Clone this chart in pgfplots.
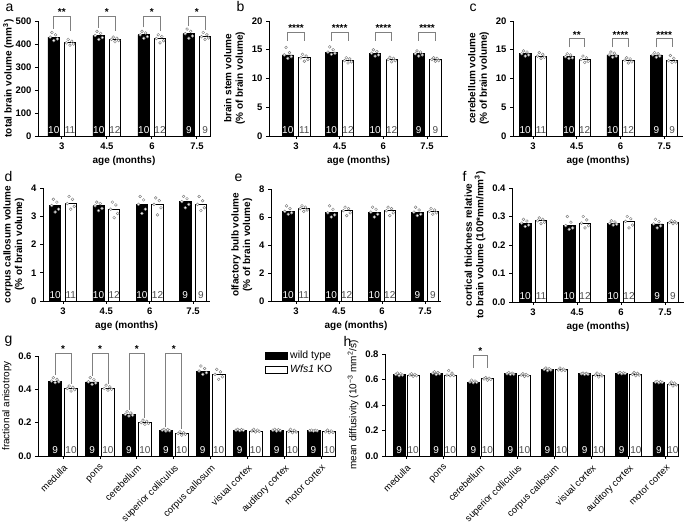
\documentclass[border=0pt]{standalone}
\usepackage{pgfplots}
\pgfplotsset{compat=1.18}
\usepackage{fontspec}
\setmainfont{Liberation Sans}

\pgfplotsset{
  base/.style={
    scale only axis,
    axis x line*=bottom, axis y line*=left,
    axis line style={-, line width=0.9pt},
    tick align=outside, major tick length=3pt,
    every tick/.style={black, line width=0.9pt},
    ymin=0, enlargelimits=false, clip=false,
    /pgf/number format/assume math mode=true,
    tick label style={font=\bfseries\fontsize{9.5}{11}\selectfont},
    label style={font=\bfseries\fontsize{10}{11.5}\selectfont},
    ylabel style={align=center},
  },
  age/.style={base, xtick={0,1,2,3}, xticklabels={3,4.5,6,7.5}, xlabel={age (months)}},
  reg/.style={base, xtick={0,...,7},
    xticklabels={medulla,pons,cerebellum,superior colliculus,corpus callosum,visual cortex,auditory cortex,motor cortex},
    xticklabel style={rotate=45, anchor=north east, font=\fontsize{9.5}{11}\selectfont},
    ylabel style={font=\fontsize{10}{11.5}\selectfont},
    yticklabel style={/pgf/number format/.cd, fixed, fixed zerofill, precision=1}},
  wt/.style 2 args={ybar, bar width=#1, bar shift=-#2, fill=black, draw=black, line width=0.6pt},
  ko/.style 2 args={ybar, bar width=#1, bar shift=#2, fill=white, draw=black, line width=0.9pt},
  dots/.style={only marks, mark=*, mark size=1.4pt, forget plot,
    mark options={draw=gray, fill=white, line width=0.45pt}},
  nl/.style={draw=none, mark=none, forget plot, nodes near coords, point meta=explicit symbolic,
    every node near coord/.style={anchor=south, inner sep=1pt, yshift=1pt, font=\fontsize{10}{11}\selectfont, text=#1}},
  br/.style={gray, line width=0.8pt, forget plot},
}
\tikzset{st/.style={anchor=south, inner sep=0.5pt, font=\bfseries\fontsize{10}{11}\selectfont}}

\begin{document}
\begin{tikzpicture}
\useasboundingbox (0pt,0pt) rectangle (685pt,525pt);

% panel letters
\node[anchor=base west, font=\fontsize{14}{16}\selectfont] at (2pt,513pt) {a};
\node[anchor=base west, font=\fontsize{14}{16}\selectfont] at (233pt,513pt) {b};
\node[anchor=base west, font=\fontsize{14}{16}\selectfont] at (466pt,513pt) {c};
\node[anchor=base west, font=\fontsize{14}{16}\selectfont] at (1pt,343pt) {d};
\node[anchor=base west, font=\fontsize{14}{16}\selectfont] at (231pt,343pt) {e};
\node[anchor=base west, font=\fontsize{14}{16}\selectfont] at (459pt,343pt) {f};
\node[anchor=base west, font=\fontsize{14}{16}\selectfont] at (1pt,181pt) {g};
\node[anchor=base west, font=\fontsize{14}{16}\selectfont] at (340pt,178pt) {h};

% a
\begin{axis}[age, at={(38pt,389pt)}, anchor=south west, width=172pt, height=115pt,
  xmin=-0.53, xmax=3.29, ymax=500, ytick={0,100,...,500}, ylabel shift=-5pt,
  ylabel={total brain volume (mm\textsuperscript{3})}]
\addplot[wt={0.26}{0.18}] coordinates {(0,430) (1,437) (2,440) (3,445)};
\addplot[ko={0.26}{0.18}] coordinates {(0,405) (1,420) (2,424) (3,432)};
\addplot[dots] coordinates {
 (-0.26,430)(-0.22,450)(-0.18,415)(-0.14,440)(-0.10,422)
 (0.10,405)(0.14,420)(0.18,395)(0.22,412)(0.26,400)
 (0.74,437)(0.78,455)(0.82,420)(0.86,446)(0.90,428)
 (1.10,420)(1.14,430)(1.18,410)(1.22,425)(1.26,415)
 (1.74,440)(1.78,455)(1.82,425)(1.86,448)(1.90,432)
 (2.10,424)(2.14,440)(2.18,405)(2.22,432)(2.26,414)
 (2.74,445)(2.78,465)(2.82,425)(2.86,455)(2.90,435)
 (3.10,432)(3.14,450)(3.18,420)(3.22,440)(3.26,426)};
\addplot[nl=white] coordinates {(-0.18,0)[10] (0.82,0)[10] (1.82,0)[10] (2.82,0)[9]};
\addplot[nl=black!70] coordinates {(0.18,0)[11] (1.18,0)[12] (2.18,0)[12] (3.18,0)[9]};
\addplot[br] coordinates {(-0.18,465) (-0.18,522) (0.18,522) (0.18,455)};
\addplot[br] coordinates {(0.82,470) (0.82,522) (1.18,522) (1.18,455)};
\addplot[br] coordinates {(1.82,472) (1.82,522) (2.18,522) (2.18,458)};
\addplot[br] coordinates {(2.82,480) (2.82,522) (3.18,522) (3.18,462)};
\node[st] at (axis cs:0,522) {**};
\node[st] at (axis cs:1,522) {*};
\node[st] at (axis cs:2,522) {*};
\node[st] at (axis cs:3,522) {*};
\end{axis}

% b
\begin{axis}[age, at={(269pt,389pt)}, anchor=south west, width=179pt, height=115pt,
  xmin=-0.62, xmax=3.48, ymax=20, ytick={0,5,...,20},
  ylabel={brain stem volume\\(\% of brain volume)}]
\addplot[wt={0.26}{0.19}] coordinates {(0,14.1) (1,14.6) (2,14.4) (3,14.3)};
\addplot[ko={0.26}{0.19}] coordinates {(0,13.6) (1,13.1) (2,13.3) (3,13.3)};
\addplot[dots] coordinates {
 (-0.27,14.1)(-0.23,15.4)(-0.19,13.5)(-0.15,14.5)(-0.11,13.8)
 (0.11,13.6)(0.15,14.2)(0.19,13.0)(0.23,13.9)(0.27,13.3)
 (0.73,14.6)(0.77,15.5)(0.81,14.2)(0.85,15.0)(0.89,14.4)
 (1.11,13.1)(1.15,13.6)(1.19,12.7)(1.23,13.4)(1.27,12.9)
 (1.73,14.4)(1.77,15.0)(1.81,13.9)(1.85,14.7)(1.89,14.1)
 (2.11,13.3)(2.15,13.7)(2.19,12.9)(2.23,13.5)(2.27,13.1)
 (2.73,14.3)(2.77,14.8)(2.81,13.9)(2.85,14.6)(2.89,14.1)
 (3.11,13.3)(3.15,13.6)(3.19,13.0)(3.23,13.5)(3.27,13.1)};
\addplot[nl=white] coordinates {(-0.19,0)[10] (0.81,0)[10] (1.81,0)[10] (2.81,0)[9]};
\addplot[nl=black!70] coordinates {(0.19,0)[11] (1.19,0)[12] (2.19,0)[12] (3.19,0)[9]};
\addplot[br] coordinates {(-0.19,16.6) (-0.19,18) (0.19,18) (0.19,16.6)};
\addplot[br] coordinates {(0.81,16.6) (0.81,18) (1.19,18) (1.19,16.6)};
\addplot[br] coordinates {(1.81,16.6) (1.81,18) (2.19,18) (2.19,16.6)};
\addplot[br] coordinates {(2.81,16.6) (2.81,18) (3.19,18) (3.19,16.6)};
\node[st] at (axis cs:0,18) {****};
\node[st] at (axis cs:1,18) {****};
\node[st] at (axis cs:2,18) {****};
\node[st] at (axis cs:3,18) {****};
\end{axis}

% c
\begin{axis}[age, at={(513pt,389pt)}, anchor=south west, width=170pt, height=115pt,
  xmin=-0.46, xmax=3.43, ymax=20, ytick={0,5,...,20},
  ylabel={cerebellum volume\\(\% of brain volume)}]
\addplot[wt={0.26}{0.18}] coordinates {(0,14.3) (1,13.8) (2,14.1) (3,14.1)};
\addplot[ko={0.26}{0.18}] coordinates {(0,13.9) (1,13.3) (2,13.2) (3,13.1)};
\addplot[dots] coordinates {
 (-0.26,14.3)(-0.22,14.8)(-0.18,13.9)(-0.14,14.6)(-0.10,14.1)
 (0.10,13.9)(0.14,14.5)(0.18,13.5)(0.22,14.2)(0.26,13.7)
 (0.74,13.8)(0.78,14.3)(0.82,13.5)(0.86,14.1)(0.90,13.6)
 (1.10,13.3)(1.14,13.9)(1.18,12.8)(1.22,13.6)(1.26,13.0)
 (1.74,14.1)(1.78,14.6)(1.82,13.7)(1.86,14.4)(1.90,13.9)
 (2.10,13.2)(2.14,13.6)(2.18,12.7)(2.22,13.4)(2.26,12.9)
 (2.74,14.1)(2.78,14.5)(2.82,13.7)(2.86,14.3)(2.90,13.9)
 (3.10,13.1)(3.14,14.0)(3.18,12.8)(3.22,13.5)(3.26,12.9)};
\addplot[nl=white] coordinates {(-0.18,0)[10] (0.82,0)[10] (1.82,0)[10] (2.82,0)[9]};
\addplot[nl=black!70] coordinates {(0.18,0)[11] (1.18,0)[12] (2.18,0)[12] (3.18,0)[9]};
\addplot[br] coordinates {(0.82,15.4) (0.82,16.9) (1.18,16.9) (1.18,15.4)};
\addplot[br] coordinates {(1.82,15.4) (1.82,16.9) (2.18,16.9) (2.18,15.4)};
\addplot[br] coordinates {(2.82,15.4) (2.82,16.9) (3.18,16.9) (3.18,15.4)};
\node[st] at (axis cs:1,16.9) {**};
\node[st] at (axis cs:2,16.9) {****};
\node[st] at (axis cs:3,16.9) {****};
\end{axis}

% d
\begin{axis}[age, at={(43pt,224pt)}, anchor=south west, width=167pt, height=113pt,
  xmin=-0.46, xmax=3.39, ymax=4, ytick={0,1,...,4},
  ylabel={corpus callosum volume\\(\% of brain volume)}]
\addplot[wt={0.26}{0.18}] coordinates {(0,3.38) (1,3.37) (2,3.42) (3,3.52)};
\addplot[ko={0.26}{0.18}] coordinates {(0,3.45) (1,3.25) (2,3.42) (3,3.42)};
\addplot[dots] coordinates {
 (-0.26,3.38)(-0.22,3.6)(-0.18,3.15)(-0.14,3.5)(-0.10,3.25)
 (0.10,3.45)(0.14,3.7)(0.18,3.25)(0.22,3.6)(0.26,3.35)
 (0.74,3.37)(0.78,3.5)(0.82,3.2)(0.86,3.45)(0.90,3.28)
 (1.10,3.25)(1.14,3.5)(1.18,2.95)(1.22,3.4)(1.26,3.1)
 (1.74,3.42)(1.78,3.7)(1.82,3.1)(1.86,3.58)(1.90,3.25)
 (2.10,3.42)(2.14,3.65)(2.18,3.05)(2.22,3.55)(2.26,3.3)
 (2.74,3.52)(2.78,3.7)(2.82,3.3)(2.86,3.62)(2.90,3.42)
 (3.10,3.42)(3.14,3.7)(3.18,3.2)(3.22,3.55)(3.26,3.3)};
\addplot[nl=white] coordinates {(-0.18,0)[10] (0.82,0)[10] (1.82,0)[10] (2.82,0)[9]};
\addplot[nl=black!70] coordinates {(0.18,0)[11] (1.18,0)[12] (2.18,0)[12] (3.18,0)[9]};
\end{axis}

% e
\begin{axis}[age, at={(271pt,224pt)}, anchor=south west, width=170pt, height=112pt,
  xmin=-0.58, xmax=3.37, ymax=8, ytick={0,2,...,8},
  ylabel={olfactory bulb volume\\(\% of brain volume)}]
\addplot[wt={0.26}{0.18}] coordinates {(0,6.4) (1,6.3) (2,6.35) (3,6.35)};
\addplot[ko={0.26}{0.18}] coordinates {(0,6.6) (1,6.45) (2,6.45) (3,6.4)};
\addplot[dots] coordinates {
 (-0.26,6.4)(-0.22,6.8)(-0.18,6.2)(-0.14,6.6)(-0.10,6.3)
 (0.10,6.6)(0.14,6.8)(0.18,6.4)(0.22,6.7)(0.26,6.5)
 (0.74,6.3)(0.78,6.8)(0.82,6.0)(0.86,6.55)(0.90,6.15)
 (1.10,6.45)(1.14,6.7)(1.18,6.1)(1.22,6.6)(1.26,6.3)
 (1.74,6.35)(1.78,6.7)(1.82,6.0)(1.86,6.55)(1.90,6.2)
 (2.10,6.45)(2.14,6.7)(2.18,6.1)(2.22,6.6)(2.26,6.3)
 (2.74,6.35)(2.78,6.7)(2.82,6.1)(2.86,6.5)(2.90,6.2)
 (3.10,6.4)(3.14,6.6)(3.18,6.2)(3.22,6.5)(3.26,6.3)};
\addplot[nl=white] coordinates {(-0.18,0)[10] (0.82,0)[10] (1.82,0)[10] (2.82,0)[9]};
\addplot[nl=black!70] coordinates {(0.18,0)[11] (1.18,0)[12] (2.18,0)[12] (3.18,0)[9]};
\end{axis}

% f
\begin{axis}[age, at={(512pt,223pt)}, anchor=south west, width=172pt, height=114pt,
  xmin=-0.48, xmax=3.43, ymax=0.4, ytick={0,0.1,...,0.4},
  yticklabel style={/pgf/number format/.cd, fixed, fixed zerofill, precision=1},
  ylabel={cortical thickness relative\\to brain volume (100*mm/mm\textsuperscript{3})}]
\addplot[wt={0.26}{0.18}] coordinates {(0,0.277) (1,0.268) (2,0.276) (3,0.274)};
\addplot[ko={0.26}{0.18}] coordinates {(0,0.285) (1,0.277) (2,0.283) (3,0.279)};
\addplot[dots] coordinates {
 (-0.26,0.277)(-0.22,0.29)(-0.18,0.265)(-0.14,0.284)(-0.10,0.27)
 (0.10,0.285)(0.14,0.295)(0.18,0.275)(0.22,0.29)(0.26,0.28)
 (0.74,0.268)(0.78,0.30)(0.82,0.255)(0.86,0.28)(0.90,0.26)
 (1.10,0.277)(1.14,0.30)(1.18,0.26)(1.22,0.288)(1.26,0.268)
 (1.74,0.276)(1.78,0.285)(1.82,0.27)(1.86,0.281)(1.90,0.273)
 (2.10,0.283)(2.14,0.30)(2.18,0.26)(2.22,0.292)(2.26,0.27)
 (2.74,0.274)(2.78,0.29)(2.82,0.26)(2.86,0.282)(2.90,0.267)
 (3.10,0.279)(3.14,0.285)(3.18,0.275)(3.22,0.282)(3.26,0.277)};
\addplot[nl=white] coordinates {(-0.18,0)[10] (0.82,0)[10] (1.82,0)[10] (2.82,0)[9]};
\addplot[nl=black!70] coordinates {(0.18,0)[11] (1.18,0)[12] (2.18,0)[12] (3.18,0)[9]};
\end{axis}

% g
\begin{axis}[reg, at={(38pt,69pt)}, anchor=south west, width=293pt, height=100pt,
  xmin=-0.68, xmax=7.26, ymax=0.6, ytick={0,0.2,...,0.6},
  ylabel={fractional anisotropy},
  legend style={at={(rel axis cs:0.775,1.07)}, anchor=north west, draw=none, fill=none,
    font=\fontsize{10.5}{12}\selectfont, inner sep=0pt, row sep=1pt},
  legend cell align=left,
  legend image code/.code={\draw[#1] (0pt,-3.5pt) rectangle (22pt,3.5pt);}]
\addplot[wt={0.35}{0.215}] coordinates {(0,0.45) (1,0.445) (2,0.25) (3,0.155) (4,0.51) (5,0.155) (6,0.155) (7,0.152)};
\addplot[ko={0.35}{0.215}] coordinates {(0,0.405) (1,0.405) (2,0.20) (3,0.135) (4,0.49) (5,0.15) (6,0.148) (7,0.145)};
\legend{wild type, \textit{Wfs1} KO}
\addplot[dots] coordinates {
 (-0.315,0.45)(-0.265,0.47)(-0.215,0.44)(-0.165,0.46)(-0.115,0.445)
 (0.685,0.445)(0.735,0.47)(0.785,0.43)(0.835,0.458)(0.885,0.438)
 (1.685,0.25)(1.735,0.265)(1.785,0.24)(1.835,0.258)(1.885,0.245)
 (2.685,0.155)(2.735,0.16)(2.785,0.15)(2.835,0.158)(2.885,0.152)
 (3.685,0.51)(3.735,0.54)(3.785,0.49)(3.835,0.525)(3.885,0.50)
 (4.685,0.155)(4.735,0.16)(4.785,0.152)(4.835,0.158)(4.885,0.154)
 (5.685,0.155)(5.735,0.16)(5.785,0.15)(5.835,0.158)(5.885,0.152)
 (6.685,0.152)(6.735,0.155)(6.785,0.15)(6.835,0.154)(6.885,0.151)
 (0.115,0.405)(0.165,0.42)(0.215,0.39)(0.265,0.412)(0.315,0.398)
 (1.115,0.405)(1.165,0.425)(1.215,0.395)(1.265,0.415)(1.315,0.40)
 (2.115,0.20)(2.165,0.215)(2.215,0.19)(2.265,0.208)(2.315,0.195)
 (3.115,0.135)(3.165,0.145)(3.215,0.125)(3.265,0.14)(3.315,0.13)
 (4.115,0.49)(4.165,0.52)(4.215,0.46)(4.265,0.505)(4.315,0.475)
 (5.115,0.15)(5.165,0.16)(5.215,0.145)(5.265,0.155)(5.315,0.148)
 (6.115,0.148)(6.165,0.16)(6.215,0.14)(6.265,0.154)(6.315,0.144)
 (7.115,0.145)(7.165,0.155)(7.215,0.14)(7.265,0.15)(7.315,0.142)};
\addplot[nl=white] coordinates {(-0.215,0)[9] (0.785,0)[9] (1.785,0)[9] (2.785,0)[9] (3.785,0)[9] (4.785,0)[9] (5.785,0)[9] (6.785,0)[9]};
\addplot[nl=black!70] coordinates {(0.215,0)[10] (1.215,0)[10] (2.215,0)[10] (3.215,0)[10] (4.215,0)[10] (5.215,0)[10] (6.215,0)[10] (7.215,0)[10]};
\addplot[br] coordinates {(-0.215,0.486) (-0.215,0.618) (0.215,0.618) (0.215,0.43)};
\addplot[br] coordinates {(0.785,0.48) (0.785,0.618) (1.215,0.618) (1.215,0.43)};
\addplot[br] coordinates {(1.785,0.276) (1.785,0.618) (2.215,0.618) (2.215,0.228)};
\addplot[br] coordinates {(2.785,0.174) (2.785,0.618) (3.215,0.618) (3.215,0.162)};
\node[st] at (axis cs:0,0.618) {*};
\node[st] at (axis cs:1,0.618) {*};
\node[st] at (axis cs:2,0.618) {*};
\node[st] at (axis cs:3,0.618) {*};
\end{axis}

% h
\begin{axis}[reg, at={(385pt,69pt)}, anchor=south west, width=292pt, height=102pt,
  xmin=-0.57, xmax=7.3, ymax=0.8, ytick={0,0.2,...,0.8},
  ylabel={mean diffusivity (10\textsuperscript{−3} mm\textsuperscript{2}/s)}]
\addplot[wt={0.32}{0.19}] coordinates {(0,0.64) (1,0.65) (2,0.58) (3,0.645) (4,0.68) (5,0.645) (6,0.65) (7,0.58)};
\addplot[ko={0.32}{0.19}] coordinates {(0,0.635) (1,0.635) (2,0.605) (3,0.635) (4,0.675) (5,0.635) (6,0.64) (7,0.565)};
\addplot[dots] coordinates {
 (-0.28,0.64)(-0.235,0.65)(-0.19,0.63)(-0.145,0.645)(-0.10,0.635)
 (0.72,0.65)(0.765,0.66)(0.81,0.64)(0.855,0.655)(0.90,0.645)
 (1.72,0.58)(1.765,0.595)(1.81,0.575)(1.855,0.588)(1.90,0.578)
 (2.72,0.645)(2.765,0.655)(2.81,0.64)(2.855,0.65)(2.90,0.642)
 (3.72,0.68)(3.765,0.69)(3.81,0.67)(3.855,0.685)(3.90,0.675)
 (4.72,0.645)(4.765,0.65)(4.81,0.64)(4.855,0.648)(4.90,0.642)
 (5.72,0.65)(5.765,0.655)(5.81,0.645)(5.855,0.652)(5.90,0.648)
 (6.72,0.58)(6.765,0.585)(6.81,0.575)(6.855,0.583)(6.90,0.578)
 (0.10,0.635)(0.145,0.645)(0.19,0.625)(0.235,0.64)(0.28,0.63)
 (1.10,0.635)(1.145,0.67)(1.19,0.63)(1.235,0.65)(1.28,0.632)
 (2.10,0.605)(2.145,0.615)(2.19,0.595)(2.235,0.61)(2.28,0.60)
 (3.10,0.635)(3.145,0.645)(3.19,0.625)(3.235,0.64)(3.28,0.63)
 (4.10,0.675)(4.145,0.69)(4.19,0.67)(4.235,0.682)(4.28,0.672)
 (5.10,0.635)(5.145,0.65)(5.19,0.62)(5.235,0.642)(5.28,0.628)
 (6.10,0.64)(6.145,0.655)(6.19,0.63)(6.235,0.648)(6.28,0.635)
 (7.10,0.565)(7.145,0.58)(7.19,0.55)(7.235,0.572)(7.28,0.558)};
\addplot[nl=white] coordinates {(-0.19,0)[9] (0.81,0)[9] (1.81,0)[9] (2.81,0)[9] (3.81,0)[9] (4.81,0)[9] (5.81,0)[9] (6.81,0)[9]};
\addplot[nl=black!70] coordinates {(0.19,0)[10] (1.19,0)[10] (2.19,0)[10] (3.19,0)[10] (4.19,0)[10] (5.19,0)[10] (6.19,0)[10] (7.19,0)[10]};
\addplot[br] coordinates {(1.81,0.69) (1.81,0.79) (2.19,0.79) (2.19,0.69)};
\node[st] at (axis cs:2,0.79) {*};
\end{axis}
\end{tikzpicture}
\end{document}
